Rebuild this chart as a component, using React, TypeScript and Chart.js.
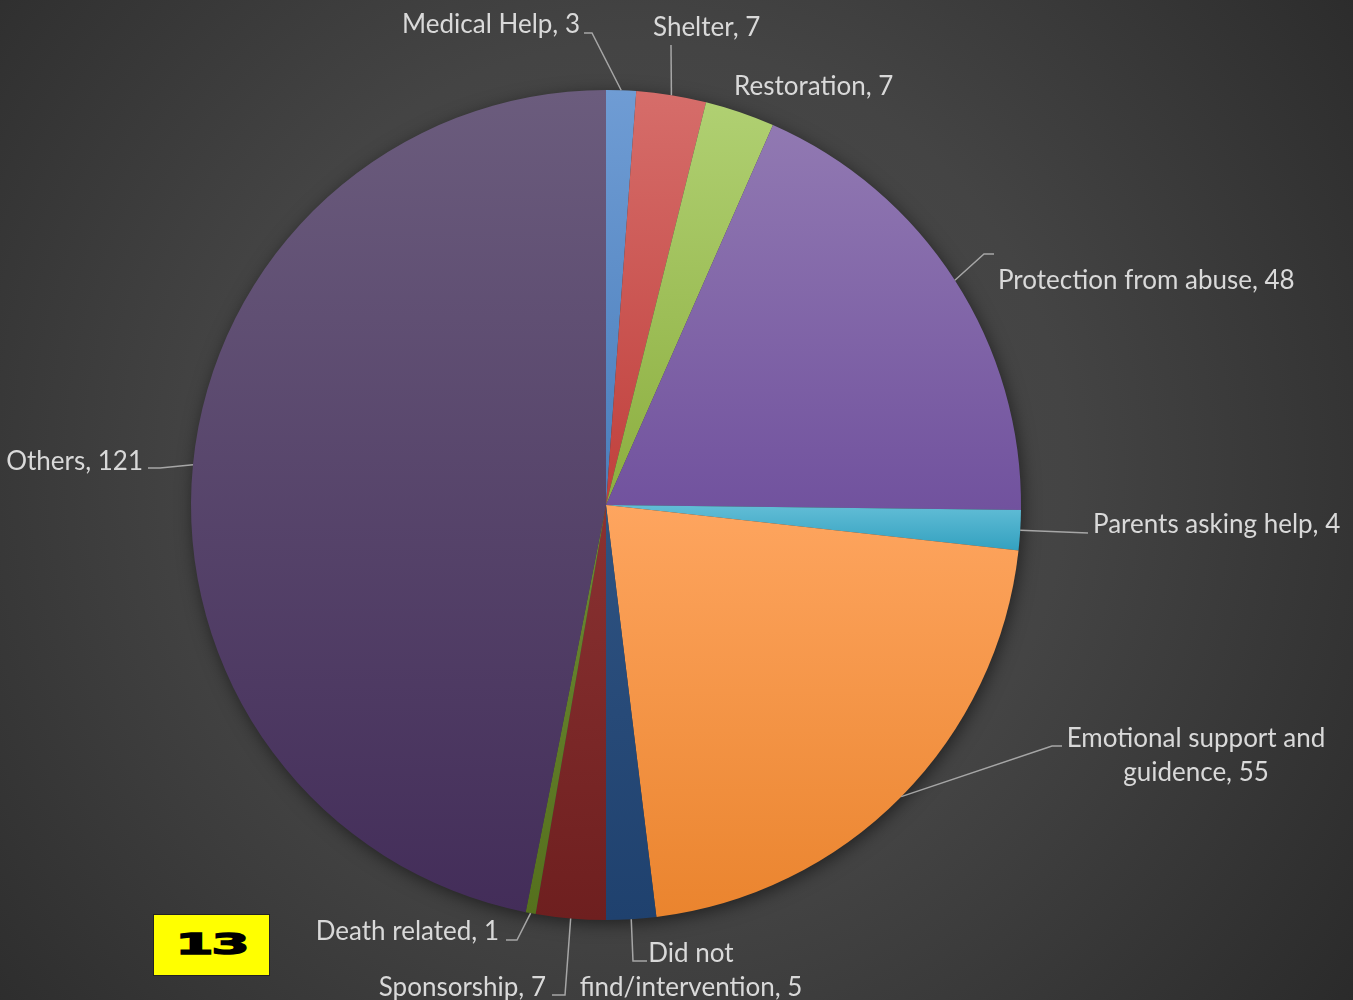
import React, { useEffect, useRef } from "react";
import { Chart, registerables } from "chart.js";

Chart.register(...registerables);

// ---- data ----
const CATEGORIES: string[] = [
  "Medical Help",
  "Shelter",
  "Restoration",
  "Protection from abuse",
  "Parents asking help",
  "Emotional support and guidence",
  "Did not find/intervention",
  "Sponsorship",
  "Death related",
  "Others",
];
const VALUES: number[] = [3, 7, 7, 48, 4, 55, 5, 7, 1, 121];
const COLORS_LIGHT: string[] = [
  "#6f9cd4", "#d66d6a", "#b0d072", "#9179b2", "#62bdd6",
  "#fea55f", "#2f5382", "#8a3232", "#6d8a33", "#6b5c7d",
];
const COLORS_DARK: string[] = [
  "#4a7ebb", "#c0403c", "#8cae3f", "#71529e", "#33a1c0",
  "#ea842e", "#1f416e", "#6e1f1f", "#55701d", "#432d59",
];

// ---- label layout (style only) ----
type LabelLayout = {
  x: number;
  y: number;
  align: CanvasTextAlign;
  firstLineWords?: number;
  path: [number, number][];
};
const LABEL_LAYOUT: LabelLayout[] = [
  { x: 580, y: 33, align: "right", path: [[592, 33], [584, 33]] },
  { x: 653, y: 36, align: "left", path: [[671, 45]] },
  { x: 734, y: 95, align: "left", path: [] },
  { x: 998, y: 289, align: "left", path: [[984, 254], [994, 254]] },
  { x: 1093, y: 533, align: "left", path: [[1088, 533]] },
  { x: 1196, y: 747, align: "center", firstLineWords: 3, path: [[1052, 746], [1062, 746]] },
  { x: 691, y: 962, align: "center", firstLineWords: 2, path: [[633, 961], [647, 961]] },
  { x: 546, y: 996, align: "right", path: [[565, 995], [552, 995]] },
  { x: 499, y: 940, align: "right", path: [[517, 940], [506, 940]] },
  { x: 143, y: 470, align: "right", path: [[160, 468], [148, 468]] },
];

const FONT = "Lato, 'Open Sans', sans-serif";
const TEXT_COLOR = "#d9d9d9";
const LEADER_COLOR = "#a6a6a6";

function sliceGradient(ctx: any) {
  const chart = ctx.chart;
  const area = chart.chartArea;
  const i: number = ctx.dataIndex ?? 0;
  if (!area) return COLORS_DARK[i];
  const data: number[] = ctx.dataset.data;
  const total = data.reduce((a, b) => a + b, 0);
  let before = 0;
  for (let k = 0; k < i; k++) before += data[k];
  const cx = (area.left + area.right) / 2;
  const cy = (area.top + area.bottom) / 2;
  const r = Math.min(area.width, area.height) / 2;
  const a0 = -Math.PI / 2 + (before / total) * Math.PI * 2;
  const a1 = a0 + (data[i] / total) * Math.PI * 2;
  const ys = [cy, cy + r * Math.sin(a0), cy + r * Math.sin(a1)];
  const inRange = (t: number) => {
    for (let m = -2; m <= 2; m++) {
      const tt = t + m * Math.PI * 2;
      if (tt >= a0 && tt <= a1) return true;
    }
    return false;
  };
  if (inRange(-Math.PI / 2)) ys.push(cy - r);
  if (inRange(Math.PI / 2)) ys.push(cy + r);
  const y0 = Math.min(...ys);
  const y1 = Math.max(...ys);
  const g = chart.ctx.createLinearGradient(0, y0, 0, Math.max(y1, y0 + 1));
  g.addColorStop(0, COLORS_LIGHT[i]);
  g.addColorStop(1, COLORS_DARK[i]);
  return g;
}

const backgroundPlugin = {
  id: "bgPlugin",
  beforeDraw(chart: any) {
    const { ctx, width, height } = chart;
    ctx.save();
    const g = ctx.createRadialGradient(640, 470, 0, 640, 470, 950);
    g.addColorStop(0, "#4b4b4b");
    g.addColorStop(0.45, "#444444");
    g.addColorStop(1, "#272727");
    ctx.fillStyle = g;
    ctx.fillRect(0, 0, width, height);
    ctx.restore();
  },
  beforeDatasetsDraw(chart: any) {
    const meta = chart.getDatasetMeta(0);
    const el = meta.data[0];
    if (!el) return;
    const { x, y, outerRadius } = el.getProps(["x", "y", "outerRadius"], true);
    const ctx = chart.ctx;
    ctx.save();
    ctx.shadowColor = "rgba(0,0,0,0.55)";
    ctx.shadowBlur = 18;
    ctx.shadowOffsetX = 2;
    ctx.shadowOffsetY = 4;
    ctx.fillStyle = "#3a3a3a";
    ctx.beginPath();
    ctx.arc(x, y, outerRadius - 1, 0, Math.PI * 2);
    ctx.fill();
    ctx.restore();
  },
};

const labelsPlugin = {
  id: "labelsPlugin",
  afterDatasetsDraw(chart: any) {
    const ctx = chart.ctx;
    const meta = chart.getDatasetMeta(0);
    const labels: string[] = chart.data.labels;
    const data: number[] = chart.data.datasets[0].data;
    ctx.save();
    meta.data.forEach((el: any, i: number) => {
      const p = el.getProps(["x", "y", "startAngle", "endAngle", "outerRadius"], true);
      const mid = (p.startAngle + p.endAngle) / 2;
      const ex = p.x + p.outerRadius * Math.cos(mid);
      const ey = p.y + p.outerRadius * Math.sin(mid);
      const lay = LABEL_LAYOUT[i];
      if (lay.path.length) {
        ctx.strokeStyle = LEADER_COLOR;
        ctx.lineWidth = 1.5;
        ctx.beginPath();
        ctx.moveTo(ex, ey);
        lay.path.forEach(([px, py]) => ctx.lineTo(px, py));
        ctx.stroke();
      }
      const text = `${labels[i]}, ${data[i]}`;
      let lines = [text];
      if (lay.firstLineWords) {
        const words = text.split(" ");
        lines = [
          words.slice(0, lay.firstLineWords).join(" "),
          words.slice(lay.firstLineWords).join(" "),
        ];
      }
      ctx.font = `26px ${FONT}`;
      ctx.fillStyle = TEXT_COLOR;
      ctx.textAlign = lay.align;
      ctx.textBaseline = "alphabetic";
      lines.forEach((ln, k) => ctx.fillText(ln, lay.x, lay.y + k * 34));
    });
    ctx.restore();
  },
};

export default function App() {
  const ref = useRef<HTMLCanvasElement | null>(null);
  useEffect(() => {
    if (!ref.current) return;
    const chart = new Chart(ref.current, {
      type: "pie",
      data: {
        labels: CATEGORIES,
        datasets: [
          {
            data: VALUES,
            backgroundColor: sliceGradient as any,
            borderWidth: 0,
          },
        ],
      },
      options: {
        responsive: false,
        animation: false,
        layout: { padding: { left: 191, right: 332, top: 90, bottom: 80 } },
        plugins: {
          legend: { display: false },
          tooltip: { enabled: false },
        },
      },
      plugins: [backgroundPlugin, labelsPlugin],
    });
    return () => chart.destroy();
  }, []);
  return (
    <div style={{ position: "fixed", left: 0, top: 0, width: 1353, height: 1000, overflow: "hidden" }}>
      <canvas ref={ref} width={1353} height={1000} style={{ position: "absolute", left: 0, top: 0 }} />
      <div
        style={{
          position: "absolute",
          left: 153,
          top: 914,
          width: 115,
          height: 60,
          background: "#ffff00",
          border: "1px solid #222",
          display: "flex",
          alignItems: "center",
          justifyContent: "center",
        }}
      >
        <span
          style={{
            fontFamily: "'DejaVu Sans', sans-serif",
            fontWeight: 900,
            fontSize: 28,
            color: "#000",
            display: "inline-block",
            transform: "scaleX(1.95)",
            WebkitTextStroke: "1.5px #000",
            lineHeight: 1,
            letterSpacing: -1,
          }}
        >
          13
        </span>
      </div>
    </div>
  );
}
